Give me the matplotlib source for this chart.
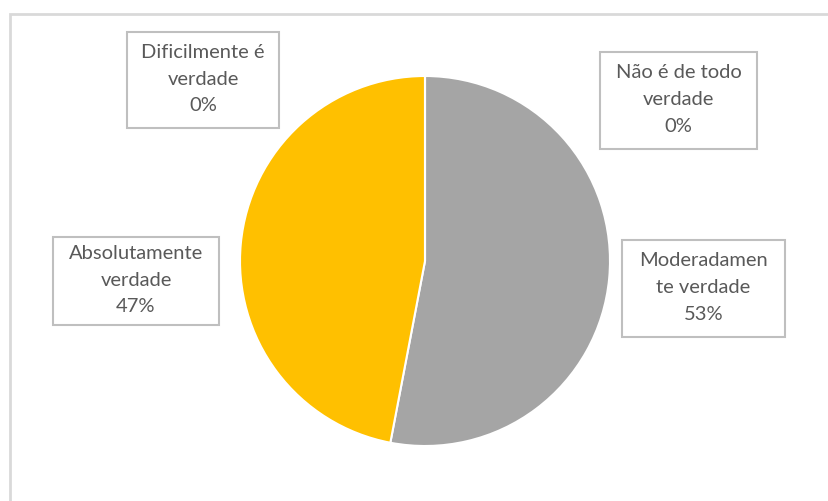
import matplotlib.pyplot as plt
from matplotlib.patches import Rectangle

# answers, clockwise from 12 o'clock
categories = ['Não é de todo verdade', 'Moderadamente verdade',
              'Absolutamente verdade', 'Dificilmente é verdade']
values = [0, 53, 47, 0]
label_lines = ['Não é de todo\nverdade', 'Moderadamen\nte verdade',
               'Absolutamente\nverdade', 'Dificilmente é\nverdade']
colors = ['#4472C4', '#A5A5A5', '#FFC000', '#ED7D31']

W, H = 829, 501
fig = plt.figure(figsize=(W / 100, H / 100), dpi=100)
ax = fig.add_axes([0, 0, 1, 1])

# chart area border (runs off the right and bottom)
ax.add_patch(Rectangle((10, -10), W + 20, H - 14 + 10, fill=False,
                       edgecolor='#D9D9D9', linewidth=2))

ax.pie(values, colors=colors, startangle=90, counterclock=False,
       center=(425, H - 261), radius=185, frame=True,
       wedgeprops=dict(edgecolor='white', linewidth=1.5))
ax.set_xlim(0, W)
ax.set_ylim(0, H)
ax.axis('off')

# data label boxes: (x0, y0, x1, y1) in pixels from the top-left
boxes = [(600, 52, 757, 149), (622, 240, 785, 337),
         (53, 237, 219, 325), (127, 32, 279, 128)]
total = sum(values)
for (x0, y0, x1, y1), lines, v in zip(boxes, label_lines, values):
    ax.add_patch(Rectangle((x0, H - y1), x1 - x0, y1 - y0, fill=False,
                           edgecolor='#BFBFBF', linewidth=1.5))
    txt = f'{lines}\n{round(100 * v / total)}%'
    ax.text((x0 + x1) / 2, H - (y0 + y1) / 2 + 1, txt, ha='center',
            va='center', fontsize=14.5, family='Lato', color='#595959',
            linespacing=1.7)

fig.savefig('out.png', dpi=100)
